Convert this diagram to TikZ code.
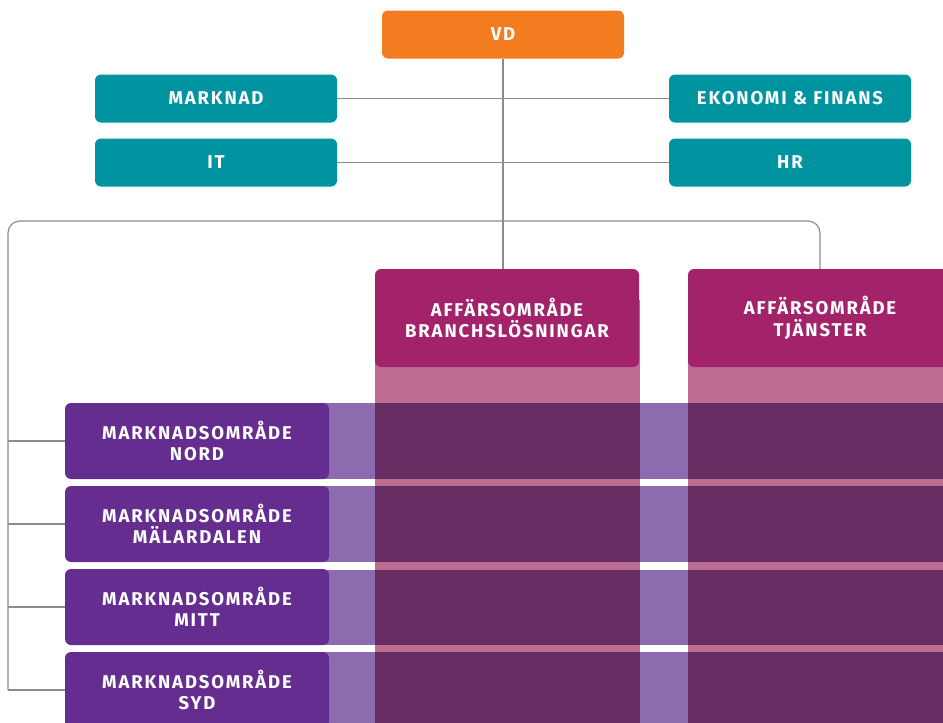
\documentclass[tikz,border=0pt]{standalone}
\usepackage{fontspec}
\setmainfont{Fira Sans}[LetterSpace=10]
\usetikzlibrary{backgrounds}
\definecolor{vdorange}{HTML}{F47C20}
\definecolor{staffteal}{HTML}{0093A0}
\definecolor{aomagenta}{HTML}{A3236A}
\definecolor{colpink}{HTML}{BD6C8F}
\definecolor{mspurple}{HTML}{662D91}
\definecolor{bandpurple}{HTML}{8C6BAE}
\definecolor{overlapdark}{HTML}{662D62}
\definecolor{linegray}{HTML}{8C8C8C}
\begin{document}
\begin{tikzpicture}[x=1pt,y=-1pt,
  orgbox/.style={rounded corners=6pt, inner sep=0pt, text=white, align=center,
    font=\bfseries\fontsize{18.5}{21.5}\selectfont},
  vdbox/.style={orgbox, fill=vdorange, minimum width=242pt, minimum height=48pt},
  staffbox/.style={orgbox, fill=staffteal, minimum width=242pt, minimum height=48pt},
  aobox/.style={orgbox, fill=aomagenta, minimum width=264pt, minimum height=98pt},
  msbox/.style={orgbox, fill=mspurple, minimum width=264pt, minimum height=76pt},
  conn/.style={draw=linegray, line width=1.2pt}]
\useasboundingbox (0,0) rectangle (943,723);
\clip (0,0) rectangle (943,723);
% nodes
\node[vdbox] (vd) at (503,34.5) {VD};
\node[staffbox] (mark) at (216,98.5) {MARKNAD};
\node[staffbox] (eko) at (790,98.5) {EKONOMI \& FINANS};
\node[staffbox] (it) at (216,162.5) {IT};
\node[staffbox] (hr) at (790,162.5) {HR};
\node[aobox] (ao1) at (507,318) {AFFÄRSOMRÅDE\\BRANCHSLÖSNINGAR};
\node[aobox] (ao2) at (820,318) {AFFÄRSOMRÅDE\\TJÄNSTER};
\node[msbox] (ms1) at (197,441) {MARKNADSOMRÅDE\\NORD};
\node[msbox] (ms2) at (197,524) {MARKNADSOMRÅDE\\MÄLARDALEN};
\node[msbox] (ms3) at (197,607) {MARKNADSOMRÅDE\\MITT};
\node[msbox] (ms4) at (197,690) {MARKNADSOMRÅDE\\SYD};
% connector coordinates
\coordinate (busL) at (8,221);
\coordinate (busR) at (820,221);
\coordinate (leftEnd) at (8,690);
\coordinate (vdDown) at (503,269);
\begin{scope}[on background layer]
  % matrix columns
  \fill[colpink] (375,300) rectangle (640,723);
  \fill[colpink] (688,300) rectangle (952,723);
  % row bands
  \foreach \ya/\yb in {403/479, 486/562, 570/645, 652/730}{
    \fill[bandpurple] (316,\ya) rectangle (943,\yb);
    \fill[overlapdark] (375,\ya) rectangle (640,\yb);
    \fill[overlapdark] (688,\ya) rectangle (952,\yb);
  }
  % connectors
  \draw[conn] (vd.south) -- (vdDown);
  \draw[conn] (mark.east) -- (eko.west);
  \draw[conn] (it.east) -- (hr.west);
  \draw[conn, rounded corners=12pt] (leftEnd) -- (busL) -- (busR) -- (ao2.north);
  \foreach \m in {ms1,ms2,ms3,ms4}{
    \draw[conn] (\m.west) -- (\m.west -| busL);
  }
\end{scope}
\end{tikzpicture}
\end{document}
